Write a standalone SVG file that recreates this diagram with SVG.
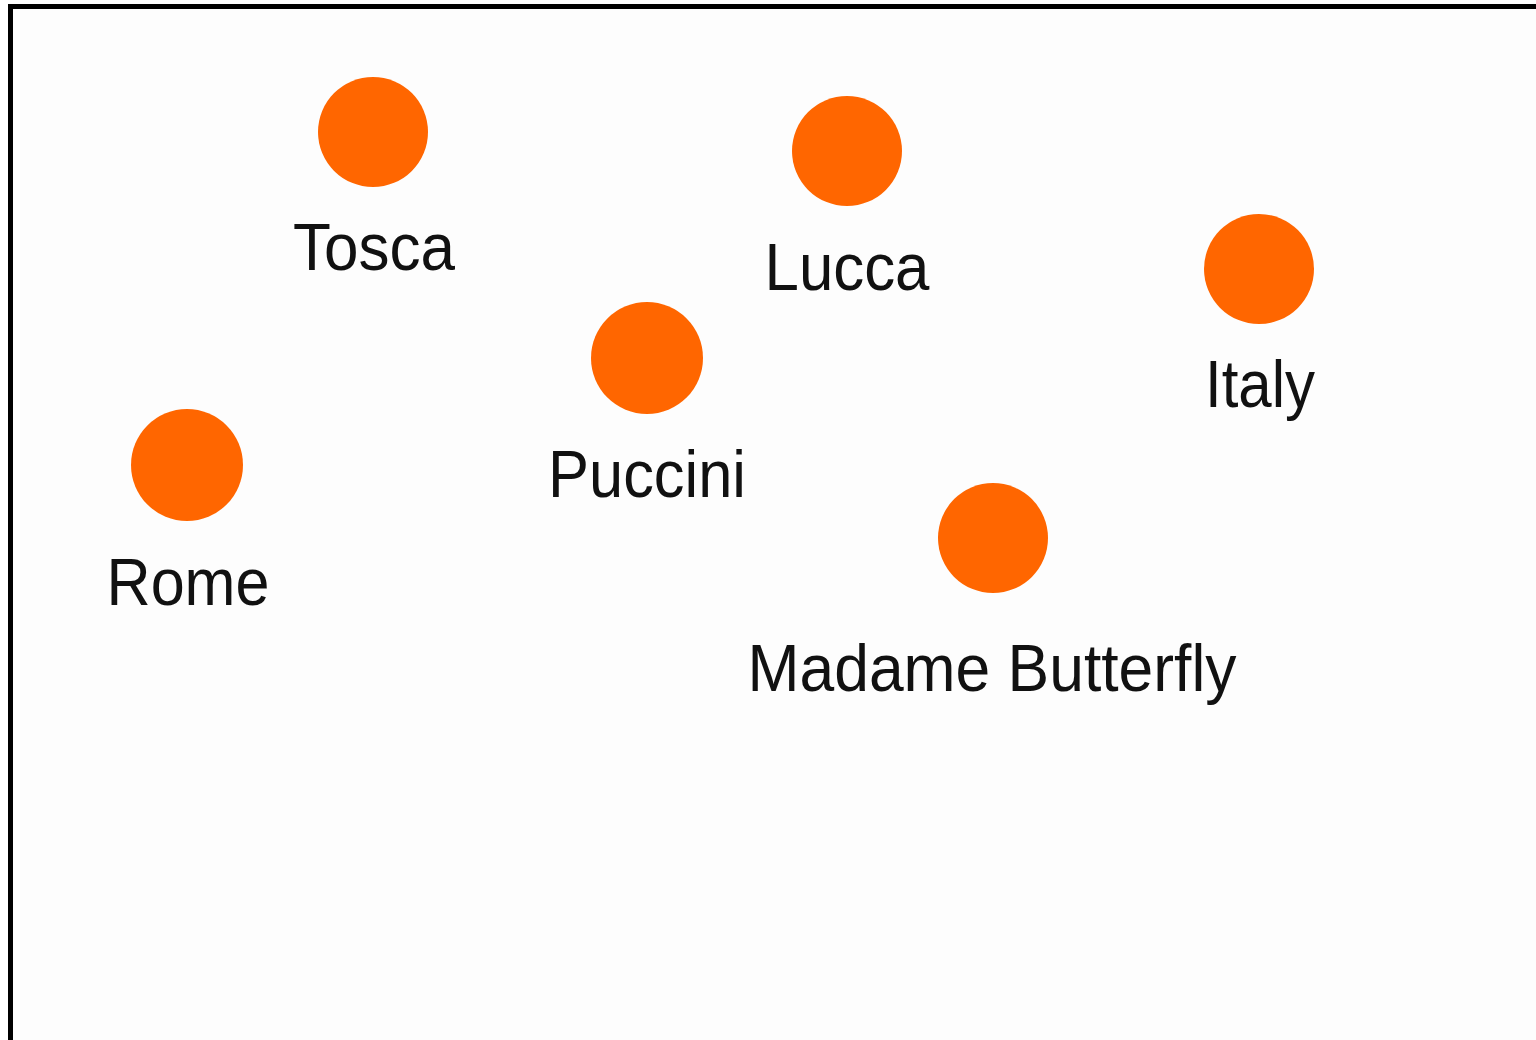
<svg xmlns="http://www.w3.org/2000/svg" width="1536" height="1040" viewBox="0 0 1536 1040">
<style>
.dot{fill:#ff6600}
.lbl{font-family:"Liberation Sans",Arial,sans-serif;font-size:66px;fill:#111;text-anchor:middle}
</style>
<rect x="0" y="0" width="1536" height="1040" fill="#ffffff"/>
<rect x="13" y="9" width="1523" height="1031" fill="#fdfdfd"/>
<g id="frame">
<rect x="8" y="4" width="1528" height="5" fill="#000"/>
<rect x="8" y="4" width="5" height="1036" fill="#000"/>
</g>
<g id="connectors"></g>
<g id="tosca"><circle class="dot" cx="373" cy="132" r="55"/><text class="lbl" x="374" y="270" textLength="162" lengthAdjust="spacingAndGlyphs">Tosca</text></g>
<g id="lucca"><circle class="dot" cx="847" cy="151" r="55"/><text class="lbl" x="847" y="290" textLength="165" lengthAdjust="spacingAndGlyphs">Lucca</text></g>
<g id="italy"><circle class="dot" cx="1259" cy="269" r="55"/><text class="lbl" x="1260" y="407" textLength="110" lengthAdjust="spacingAndGlyphs">Italy</text></g>
<g id="puccini"><circle class="dot" cx="647" cy="358" r="56"/><text class="lbl" x="647" y="497" textLength="198" lengthAdjust="spacingAndGlyphs">Puccini</text></g>
<g id="rome"><circle class="dot" cx="187" cy="465" r="56"/><text class="lbl" x="188" y="605" textLength="163" lengthAdjust="spacingAndGlyphs">Rome</text></g>
<g id="madame-butterfly"><circle class="dot" cx="993" cy="538" r="55"/><text class="lbl" x="992" y="691" textLength="489" lengthAdjust="spacingAndGlyphs">Madame Butterfly</text></g>
</svg>
